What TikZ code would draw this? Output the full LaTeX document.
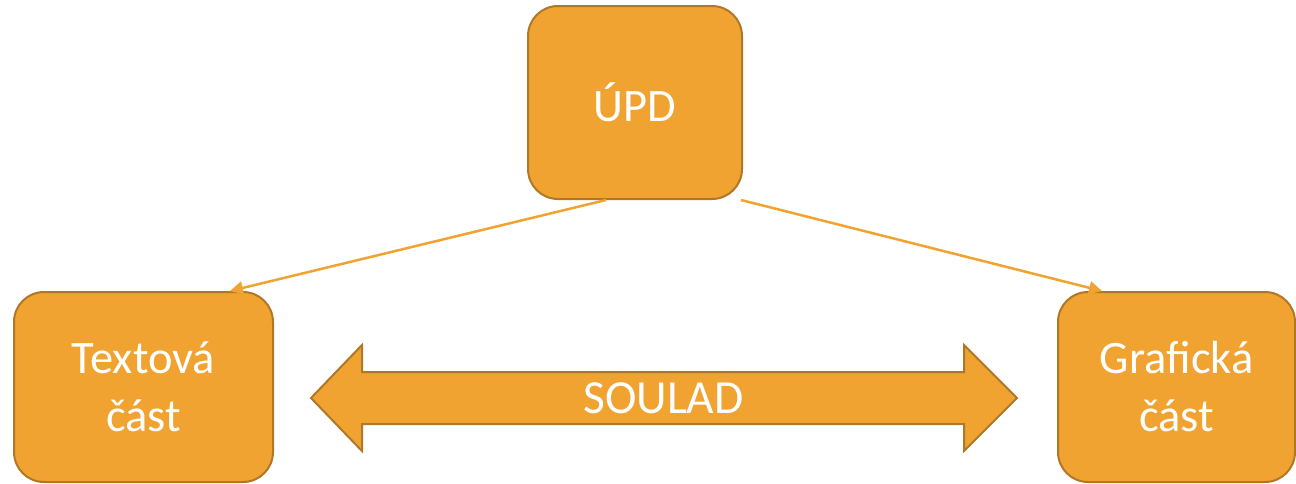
\documentclass[tikz,border=0pt]{standalone}
\usepackage{fontspec}
\setmainfont{Carlito}
\usetikzlibrary{arrows.meta,calc}
\definecolor{boxfill}{RGB}{240,163,48}
\definecolor{boxedge}{RGB}{176,120,38}
\definecolor{linecol}{RGB}{240,163,48}
\begin{document}
\begin{tikzpicture}[x=1pt,y=-1pt,
  box/.style={draw=boxedge,line width=2pt,fill=boxfill,rounded corners=30pt,
    text=white,align=center,font=\fontsize{46.5}{58}\selectfont,inner sep=0pt},
  conn/.style={draw=linecol,line width=2.5pt,-{Triangle[length=13pt,width=13pt]}},
  bigarrow/.style={draw=boxedge,line width=2pt,fill=boxfill,line join=miter}]
\useasboundingbox (0,0) rectangle (1296,483);
\node[box,minimum width=214pt,minimum height=193pt] (upd) at (635,102.5) {ÚPD};
\node[box,minimum width=259pt,minimum height=190pt] (txt) at (143.5,387) {Textová\\část};
\node[box,minimum width=237pt,minimum height=190pt] (gra) at (1176.5,387) {Grafická\\část};
\draw[bigarrow] (311,398) -- (362,345) -- (362,372) -- (964,372) -- (964,345)
  -- (1017,398) -- (964,451) -- (964,424) -- (362,424) -- (362,451) -- cycle;
\node[text=white,font=\fontsize{47.5}{54}\selectfont,inner sep=0pt] (soulad) at (663.5,398) {SOULAD};
\draw[conn] ([xshift=-29pt]upd.south) -- ([xshift=86.5pt]txt.north);
\draw[conn] ([xshift=106pt]upd.south) -- ([xshift=-74.5pt]gra.north);
\end{tikzpicture}
\end{document}
